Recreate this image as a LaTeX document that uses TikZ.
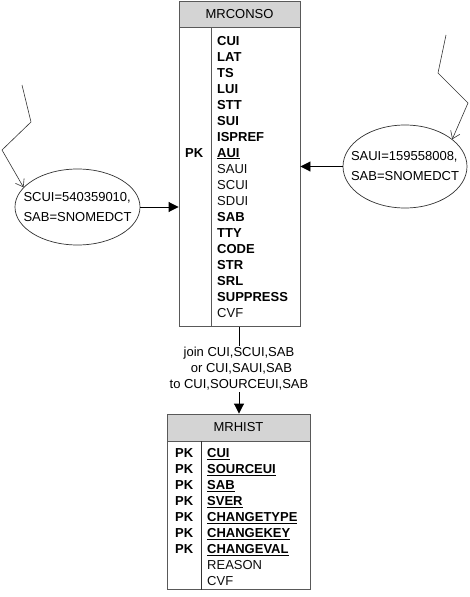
\documentclass[tikz,border=0pt]{standalone}
\usepackage{fontspec}
\setmainfont{Liberation Sans}
\usetikzlibrary{positioning}
\usetikzlibrary{shapes}
\usetikzlibrary{arrows.meta}

\newcommand{\tabfont}{\fontsize{13}{16}\selectfont}
\newcommand{\pkline}[1]{\vtop{\hbox{#1}\kern1.2pt\hrule height 1pt}}

\tikzset{
  tablehead/.style={draw=black!65, fill=black!17, line width=0.9pt, inner sep=0pt, font=\tabfont},
  tablebody/.style={draw=black!65, line width=0.9pt, inner sep=0pt, anchor=north},
  keyfield/.style={anchor=base west, inner sep=0pt, font=\tabfont\bfseries},
  plainfield/.style={anchor=base west, inner sep=0pt, font=\tabfont, text=black!95},
  lookup/.style={ellipse, draw=black!80, line width=0.7pt, inner xsep=-12pt, inner ysep=0pt, align=left, font=\tabfont},
  link/.style={draw=black, line width=0.9pt, -{Triangle[length=10pt,width=10pt]}},
  hint/.style={draw=black!80, line width=0.6pt, -{Straight Barb[length=7pt,width=10pt]}},
}

\begin{document}
\begin{tikzpicture}[x=1pt,y=-1pt]
    % Parameters
    \pgfmathsetmacro{\rowstep}{16}
    \useasboundingbox (0,0) rectangle (469,597);

    % MRCONSO table
    \node[tablehead, minimum width=121pt, minimum height=26pt] (conso) at (239.5,14) {MRCONSO};
    \node[tablebody, minimum width=121pt, minimum height=299pt] (consobody) at (conso.south) {};
    \draw[draw=black!65, line width=0.9pt] ([xshift=33pt]consobody.north west) -- ([xshift=33pt]consobody.south west);
    \foreach \name/\kind [count=\i from 0] in {CUI/keyfield, LAT/keyfield, TS/keyfield, LUI/keyfield, STT/keyfield, SUI/keyfield, ISPREF/keyfield, {\pkline{AUI}}/keyfield, SAUI/plainfield, SCUI/plainfield, SDUI/plainfield, SAB/keyfield, TTY/keyfield, CODE/keyfield, STR/keyfield, SRL/keyfield, SUPPRESS/keyfield, CVF/plainfield}
        \node[\kind] (conso-\i) at (217,{45+\rowstep*\i}) {\name};
    \node[keyfield] (conso-pk) at (185,157) {PK};

    % MRHIST table
    \node[tablehead, minimum width=143pt, minimum height=27pt] (hist) at (238.5,427.5) {MRHIST};
    \node[tablebody, minimum width=143pt, minimum height=148pt] (histbody) at (hist.south) {};
    \draw[draw=black!80, line width=0.9pt] ([xshift=35pt]histbody.north west) -- ([xshift=35pt]histbody.south west);
    \foreach \name/\kind [count=\i from 0] in {{\pkline{CUI}}/keyfield, {\pkline{SOURCEUI}}/keyfield, {\pkline{SAB}}/keyfield, {\pkline{SVER}}/keyfield, {\pkline{CHANGETYPE}}/keyfield, {\pkline{CHANGEKEY}}/keyfield, {\pkline{CHANGEVAL}}/keyfield, REASON/plainfield, CVF/plainfield}
        \node[\kind] (hist-\i) at (207,{457.5+\rowstep*\i}) {\name};
    \foreach \i in {0,...,6}
        \node[keyfield] (hist-pk\i) at (175,{457.5+\rowstep*\i}) {PK};

    % Lookup values
    \node[lookup, minimum width=125pt, minimum height=76pt] (scui) at (77.5,207) {SCUI=540359010,\\[4pt]SAB=SNOMEDCT};
    \node[lookup, minimum width=124pt, minimum height=83pt] (saui) at (405,166.5) {SAUI=159558008,\\[4pt]SAB=SNOMEDCT};
    \draw[link] (scui.east) -- (scui.east -| consobody.west);
    \draw[link] (saui.west) -- (saui.west -| consobody.east);

    \coordinate (scuihint) at (22,85);
    \coordinate (sauihint) at (446,35);
    \draw[hint] (scuihint) -- (31,122) -- (2,150) -- (scui.160);
    \draw[hint] (sauihint) -- (438,73) -- (468,103) -- (saui.30);

    % Join
    \node[align=center, font=\tabfont, inner sep=1.5pt] (joinnote) at (239,369) {join CUI,SCUI,SAB\\\hspace{5pt}or CUI,SAUI,SAB\\to CUI,SOURCEUI,SAB};
    \draw[draw=black, line width=0.9pt] (consobody.south -| joinnote.north) -- (joinnote.north);
    \draw[link] (joinnote.south) -- (joinnote.south |- hist.north);
\end{tikzpicture}
\end{document}
